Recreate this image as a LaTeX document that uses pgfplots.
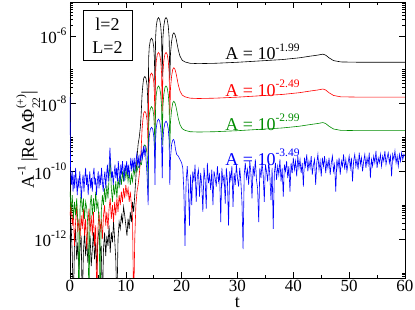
\documentclass[border=0pt]{standalone}
\usepackage{fontspec}
\setmainfont{Liberation Serif}
\usepackage{pgfplots}
\pgfplotsset{compat=1.18}
\definecolor{ggreen}{rgb}{0,0.55,0}
\newcommand\sups[1]{\raisebox{0.48em}{\fontsize{11.5}{12}\selectfont #1}}
\newlength\sswd
\newcommand\supsub[2]{\settowidth\sswd{\fontsize{11.5}{12}\selectfont #1}\rlap{\raisebox{0.55em}{\fontsize{11.5}{12}\selectfont #1}}\rlap{\raisebox{-0.35em}{\fontsize{11.5}{12}\selectfont #2}}\hspace{\sswd}}
\begin{document}
\begin{tikzpicture}
\begin{axis}[
  scale only axis, width=335pt, height=276pt,
  xmin=0, xmax=60, ymin=-13.15, ymax=-5,
  xtick={0,10,20,30,40,50,60}, minor xtick={5,15,25,35,45,55},
  xticklabels={0,10,20,30,40,50,60},
  ytick={-12,-10,-8,-6},
  yticklabels={10\sups{-12},10\sups{-10},10\sups{-8},10\sups{-6}},
  minor ytick={-13.097,-13.046,-13,
    -11.699,-11.523,-11.398,-11.301,-11.222,-11.155,-11.097,-11.046,-11,
    -9.699,-9.523,-9.398,-9.301,-9.222,-9.155,-9.097,-9.046,-9,
    -7.699,-7.523,-7.398,-7.301,-7.222,-7.155,-7.097,-7.046,-7,
    -5.699,-5.523,-5.398,-5.301,-5.222,-5.155,-5.097,-5.046},
  tick align=inside, major tick length=6pt, minor tick length=3pt,
  ticklabel style={font=\fontsize{17}{17}\selectfont},
  xticklabel style={inner sep=2pt},
  axis line style={line width=0.8pt},
  every tick/.style={line width=0.6pt, black},
  xlabel={t}, xlabel style={font=\fontsize{18}{18}\selectfont, at={(axis description cs:0.5,-0.107)}, anchor=base, inner sep=0.5pt},
  ylabel={A\sups{-1} |Re ΔΦ\supsub{(+)}{22}|},
  ylabel style={font=\fontsize{18}{18}\selectfont, at={(axis description cs:-0.125,0.5)}, anchor=center},
  every axis plot/.append style={line width=0.6pt},
  clip=true,
]
% black
\addplot[black] table {
t L
0.0 -12.0
0.2 -11.6
0.4 -12.4
0.6 -14.0
0.8 -12.2
1.0 -11.7
1.2 -12.6
1.4 -12.1
1.6 -12.9
1.8 -12.3
2.0 -11.9
2.2 -14.0
2.4 -12.4
2.6 -11.8
2.8 -12.5
3.0 -12.0
3.2 -12.7
3.4 -12.2
3.6 -11.9
3.8 -12.8
4.0 -12.3
4.2 -11.8
4.4 -12.6
4.6 -12.1
4.8 -12.9
5.0 -12.0
5.2 -11.7
5.4 -12.4
5.6 -12.2
5.8 -14.0
6.0 -12.3
6.2 -11.8
6.4 -12.5
6.6 -11.9
6.8 -12.2
7.0 -11.6
7.2 -12.4
7.4 -11.8
7.6 -12.1
7.8 -11.5
8.0 -12.0
8.2 -12.6
8.4 -14.0
8.6 -12.0
8.8 -11.5
9.0 -11.7
9.2 -11.3
9.4 -11.5
9.6 -11.05
9.8 -11.3
10.0 -11.6
10.2 -11.9
10.4 -11.4
10.6 -11.7
10.8 -11.2
11.0 -11.5
11.2 -10.9
11.4 -11.2
11.6 -10.7
11.8 -10.2
12.0 -9.6
12.2 -9.2
12.4 -9.0
12.6 -8.7
12.75 -8.3
12.9 -7.75
13.05 -7.45
13.2 -7.25
13.4 -7.2
13.6 -7.25
13.8 -7.45
13.92 -7.85
14.0 -8.6
14.08 -6.67
14.2 -6.32
14.4 -6.12
14.6 -6.07
14.8 -6.12
15.0 -6.32
15.12 -6.67
15.22 -7.6
15.33 -6.06
15.45 -5.71
15.65 -5.51
15.85 -5.46
16.05 -5.51
16.25 -5.71
16.4 -6.06
16.52 -7.2
16.64 -6.06
16.8 -5.71
17.0 -5.51
17.2 -5.46
17.4 -5.51
17.6 -5.71
17.76 -6.06
17.88 -7.3
18.0 -6.51
18.2 -6.16
18.4 -5.96
18.6 -5.91
18.8 -5.96
19.0 -6.08
19.2 -6.25
19.4 -6.42
19.7 -6.6
20.1 -6.72
20.6 -6.77
21.5 -6.81
23 -6.82
26 -6.81
30 -6.78
34 -6.74
38 -6.70
41 -6.65
43 -6.60
44.3 -6.57
45.3 -6.54
45.8 -6.57
46.4 -6.65
47.2 -6.73
48.5 -6.77
52 -6.78
60 -6.78
};
% red
\addplot[red] table {
t L
0.0 -11.3
0.2 -10.9
0.4 -11.6
0.6 -11.2
0.8 -12.2
1.0 -11.5
1.2 -11.0
1.4 -11.8
1.6 -11.4
1.8 -12.0
2.0 -11.3
2.2 -11.7
2.4 -11.1
2.6 -11.9
2.8 -11.4
3.0 -12.3
3.2 -11.6
3.4 -11.1
3.6 -11.8
3.8 -11.3
4.0 -11.9
4.2 -11.2
4.4 -12.2
4.6 -11.6
4.8 -14.0
5.0 -11.7
5.2 -11.2
5.4 -11.8
5.6 -11.4
5.8 -12.0
6.0 -11.3
6.2 -11.0
6.4 -11.6
6.6 -11.2
6.8 -11.7
7.0 -11.1
7.2 -10.8
7.4 -11.4
7.6 -11.0
7.8 -11.5
8.0 -10.9
8.2 -11.3
8.4 -10.8
8.6 -11.2
8.8 -10.7
9.0 -11.0
9.2 -10.6
9.4 -10.9
9.6 -10.5
9.8 -10.8
10.0 -10.4
10.2 -10.7
10.4 -10.5
10.6 -10.9
10.8 -10.6
11.0 -11.0
11.2 -11.4
11.4 -14.0
11.6 -12.0
11.8 -11.0
12.0 -10.6
12.2 -10.4
12.4 -10.1
12.6 -9.73
12.75 -9.33
12.9 -8.78
13.05 -8.48
13.2 -8.28
13.4 -8.23
13.6 -8.28
13.8 -8.48
13.92 -8.88
14.0 -9.63
14.08 -7.70
14.2 -7.35
14.4 -7.15
14.6 -7.10
14.8 -7.15
15.0 -7.35
15.12 -7.70
15.22 -8.63
15.33 -7.09
15.45 -6.74
15.65 -6.54
15.85 -6.49
16.05 -6.54
16.25 -6.74
16.4 -7.09
16.52 -8.23
16.64 -7.09
16.8 -6.74
17.0 -6.54
17.2 -6.49
17.4 -6.54
17.6 -6.74
17.76 -7.09
17.88 -8.33
18.0 -7.54
18.2 -7.19
18.4 -6.99
18.6 -6.94
18.8 -6.99
19.0 -7.11
19.2 -7.28
19.4 -7.45
19.7 -7.63
20.1 -7.75
20.6 -7.80
21.5 -7.84
23 -7.85
26 -7.84
30 -7.81
34 -7.77
38 -7.73
41 -7.68
43 -7.63
44.3 -7.60
45.3 -7.57
45.8 -7.60
46.4 -7.68
47.2 -7.76
48.5 -7.80
52 -7.81
60 -7.81
};
% green
\addplot[ggreen] table {
t L
0.0 -10.6
0.2 -11.2
0.4 -10.7
0.6 -11.4
0.8 -10.9
1.0 -11.3
1.2 -10.8
1.4 -11.5
1.6 -14.0
1.8 -11.1
2.0 -10.6
2.2 -11.2
2.4 -10.8
2.6 -11.4
2.8 -10.9
3.0 -11.1
3.2 -11.6
3.4 -14.0
3.6 -11.0
3.8 -10.7
4.0 -11.3
4.2 -10.8
4.4 -11.2
4.6 -10.6
4.8 -11.1
5.0 -10.9
5.2 -11.5
5.4 -14.0
5.6 -11.2
5.8 -10.7
6.0 -11.0
6.2 -10.5
6.4 -10.9
6.6 -10.4
6.8 -10.8
7.0 -10.2
7.2 -9.6
7.4 -10.5
7.6 -10.9
7.8 -10.4
8.0 -10.7
8.2 -10.3
8.4 -10.8
8.6 -10.2
8.8 -10.5
9.0 -10.1
9.2 -10.4
9.4 -10.0
9.6 -10.3
9.8 -9.9
10.0 -10.2
10.2 -9.95
10.4 -10.3
10.6 -10.0
10.8 -10.4
11.0 -10.1
11.2 -10.3
11.4 -9.9
11.6 -10.1
11.8 -9.8
12.0 -10.0
12.2 -9.85
12.4 -9.9
12.6 -9.75
12.8 -9.8
13.05 -9.47
13.2 -9.27
13.4 -9.22
13.6 -9.27
13.8 -9.47
13.92 -9.87
14.0 -10.62
14.08 -8.69
14.2 -8.34
14.4 -8.14
14.6 -8.09
14.8 -8.14
15.0 -8.34
15.12 -8.69
15.22 -9.62
15.33 -8.08
15.45 -7.73
15.65 -7.53
15.85 -7.48
16.05 -7.53
16.25 -7.73
16.4 -8.08
16.52 -9.22
16.64 -8.08
16.8 -7.73
17.0 -7.53
17.2 -7.48
17.4 -7.53
17.6 -7.73
17.76 -8.08
17.88 -9.32
18.0 -8.53
18.2 -8.18
18.4 -7.98
18.6 -7.93
18.8 -7.98
19.0 -8.10
19.2 -8.27
19.4 -8.44
19.7 -8.62
20.1 -8.74
20.6 -8.79
21.5 -8.83
23 -8.84
26 -8.83
30 -8.80
34 -8.76
38 -8.72
41 -8.67
43 -8.62
44.3 -8.59
45.3 -8.56
45.8 -8.59
46.4 -8.67
47.2 -8.75
48.5 -8.79
52 -8.80
60 -8.80
};
% blue
\addplot[blue] table {
t L
0.0 -7.8
0.1 -9.9
0.25 -10.4
0.4 -10.0
0.55 -10.6
0.7 -10.1
0.85 -10.5
1.0 -9.9
1.15 -10.3
1.3 -10.7
1.45 -10.2
1.6 -10.5
1.75 -10.0
1.9 -10.4
2.05 -10.8
2.2 -10.3
2.35 -10.1
2.5 -10.6
2.65 -10.2
2.8 -9.9
2.95 -10.4
3.1 -10.1
3.25 -10.7
3.4 -10.3
3.55 -10.0
3.7 -10.5
3.85 -10.2
4.0 -10.6
4.15 -10.1
4.3 -9.9
4.45 -10.4
4.6 -10.2
4.75 -10.7
4.9 -10.3
5.05 -10.0
5.2 -10.5
5.35 -10.1
5.5 -10.4
5.65 -9.9
5.8 -10.3
5.95 -10.6
6.1 -10.2
6.25 -10.0
6.4 -10.5
6.55 -10.1
6.7 -9.8
6.85 -10.3
7.0 -9.9
7.15 -9.3
7.3 -9.8
7.45 -10.2
7.6 -10.0
7.75 -10.4
7.9 -10.1
8.05 -9.8
8.2 -10.2
8.35 -9.9
8.5 -10.3
8.65 -9.7
8.8 -10.0
8.95 -10.4
9.1 -9.8
9.25 -10.1
9.4 -9.7
9.55 -10.0
9.7 -10.3
9.85 -9.8
10.0 -10.0
10.15 -9.7
10.3 -10.1
10.45 -9.8
10.6 -10.2
10.75 -9.9
10.9 -9.6
11.05 -10.0
11.2 -9.7
11.35 -9.9
11.5 -9.6
11.65 -10.0
11.8 -9.7
11.95 -9.5
12.1 -9.8
12.25 -9.6
12.4 -9.9
12.55 -9.5
12.7 -9.7
12.85 -9.4
13.0 -9.6
13.15 -9.3
13.3 -9.5
13.45 -9.25
13.6 -9.6
13.8 -10.1
14.0 -11.0
14.08 -9.3
14.2 -8.95
14.4 -8.75
14.6 -8.7
14.8 -8.75
15.0 -8.95
15.12 -9.3
15.22 -10.4
15.33 -9.06
15.45 -8.71
15.65 -8.51
15.85 -8.46
16.05 -8.51
16.25 -8.71
16.4 -9.06
16.52 -10.2
16.64 -9.1
16.8 -8.75
17.0 -8.57
17.2 -8.52
17.4 -8.57
17.6 -8.75
17.76 -9.1
17.88 -10.4
18.0 -9.6
18.2 -9.2
18.4 -9.08
18.55 -9.06
18.7 -9.12
18.9 -9.35
19.1 -9.5
19.4 -9.55
19.7 -9.65
20.0 -9.75
20.2 -9.9
20.4 -10.6
20.6 -12.2
20.8 -10.3
21.0 -9.85
21.2 -10.45
21.4 -11.6
21.6 -10.1
21.8 -11.0
22.0 -10.0
22.2 -10.3
22.4 -9.8
22.6 -10.9
22.8 -10.15
23.0 -9.95
23.2 -10.75
23.4 -10.05
23.6 -10.4
23.8 -11.2
24.0 -9.9
24.2 -10.25
24.4 -11.1
24.6 -9.75
24.8 -10.35
25.0 -10.1
25.2 -10.55
25.4 -9.95
25.6 -11.0
25.8 -10.0
26.0 -10.2
26.2 -10.45
26.4 -9.85
26.6 -10.3
26.8 -10.05
27.0 -11.5
27.2 -9.9
27.4 -10.35
27.6 -10.1
27.8 -10.95
28.0 -9.9
28.2 -10.3
28.4 -11.6
28.6 -10.0
28.8 -10.25
29.0 -9.85
29.2 -11.05
29.4 -10.05
29.6 -10.4
29.8 -9.8
30.0 -10.2
30.2 -10.45
30.4 -9.9
30.6 -10.3
30.8 -10.9
31.0 -12.3
31.2 -10.1
31.4 -9.75
31.6 -10.2
31.8 -9.95
32.0 -10.4
32.2 -9.7
32.4 -10.05
32.6 -10.8
32.8 -9.85
33.0 -10.15
33.2 -9.65
33.4 -10.25
33.6 -10.5
33.8 -11.5
34.0 -9.9
34.2 -10.2
34.4 -9.75
34.6 -10.1
34.8 -10.9
35.0 -9.8
35.2 -10.0
35.4 -10.3
35.6 -9.7
35.8 -10.15
36.0 -10.85
36.2 -9.9
36.4 -11.7
36.6 -10.05
36.8 -9.75
37.0 -10.25
37.2 -9.85
37.4 -10.1
37.6 -9.65
37.8 -10.3
38.0 -9.9
38.2 -10.75
38.4 -9.8
38.6 -10.0
38.8 -9.7
39.0 -10.2
39.2 -9.85
39.4 -10.6
39.6 -9.75
39.8 -10.05
40.0 -9.6
40.2 -9.95
40.4 -9.7
40.6 -10.15
40.8 -9.55
41.0 -9.9
41.2 -9.65
41.4 -10.05
41.6 -9.75
41.8 -10.45
42.0 -9.6
42.2 -9.85
42.4 -9.5
42.6 -10.0
42.8 -9.7
43.0 -9.9
43.2 -9.55
43.4 -10.1
43.6 -9.8
43.8 -9.65
44.0 -10.4
44.2 -9.75
44.4 -9.5
44.6 -9.95
44.8 -9.7
45.0 -10.15
45.2 -9.6
45.4 -9.85
45.6 -9.55
45.8 -10.05
46.0 -9.7
46.2 -9.9
46.4 -9.6
46.6 -10.1
46.8 -9.75
47.0 -9.55
47.2 -10.0
47.4 -9.8
47.6 -10.6
47.8 -9.65
48.0 -9.9
48.2 -9.6
48.4 -10.1
48.6 -9.7
48.8 -9.85
49.0 -9.5
49.2 -9.95
49.4 -9.65
49.6 -10.0
49.8 -9.75
50.0 -9.55
50.2 -9.9
50.4 -9.6
50.6 -10.3
50.8 -9.7
51.0 -9.5
51.2 -9.85
51.4 -9.65
51.6 -9.95
51.8 -9.45
52.0 -9.8
52.2 -9.6
52.4 -10.0
52.6 -9.7
52.8 -9.5
53.0 -9.9
53.2 -9.6
53.4 -9.8
53.6 -9.45
53.8 -10.2
54.0 -9.65
54.2 -9.85
54.4 -9.55
54.6 -9.75
54.8 -9.4
55.0 -9.9
55.2 -9.6
55.4 -9.75
55.6 -9.5
55.8 -9.85
56.0 -9.55
56.2 -9.7
56.4 -9.4
56.6 -9.8
56.8 -9.6
57.0 -9.45
57.2 -9.75
57.4 -9.55
57.6 -10.15
57.8 -9.5
58.0 -9.65
58.2 -9.4
58.4 -9.75
58.6 -9.55
58.8 -9.85
59.0 -9.5
59.2 -9.7
59.4 -9.45
59.6 -9.65
59.8 -9.5
60.0 -9.55
};
\node[anchor=base west, text=black, font=\fontsize{18}{18}\selectfont, inner sep=0pt] at (axis cs:27.8,-6.71) {A = 10\sups{-1.99}};
\node[anchor=base west, text=red, font=\fontsize{18}{18}\selectfont, inner sep=0pt] at (axis cs:27.8,-7.78) {A = 10\sups{-2.49}};
\node[anchor=base west, text=ggreen, font=\fontsize{18}{18}\selectfont, inner sep=0pt] at (axis cs:27.8,-8.78) {A = 10\sups{-2.99}};
\node[anchor=base west, text=blue, font=\fontsize{18}{18}\selectfont, inner sep=0pt] at (axis cs:27.8,-9.82) {A = 10\sups{-3.49}};
\node[draw, line width=0.8pt, fill=white, align=center, font=\fontsize{18}{23}\selectfont, minimum width=49pt, minimum height=50pt, inner sep=2pt] at (axis cs:6.72,-6.0) {l=2\\L=2};
\end{axis}
\pgfresetboundingbox
\path[use as bounding box] (current axis.south west) ++(-70pt,-32pt) rectangle ++(415pt,310pt);
\end{tikzpicture}
\end{document}
